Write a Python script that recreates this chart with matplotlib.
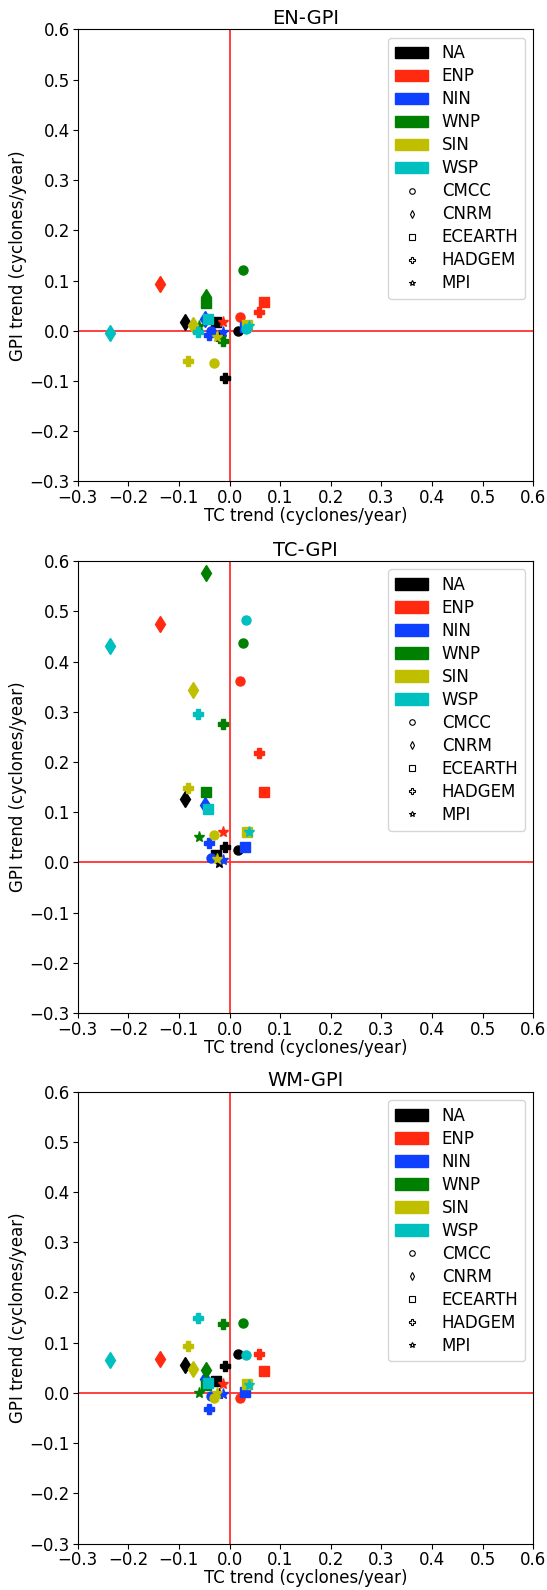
import matplotlib
matplotlib.use('Agg')

import matplotlib.pyplot as plt
from matplotlib.patches import Patch
from matplotlib.lines import Line2D


regions = ["NA", "ENP", "NIN", "WNP", "SIN", "WSP"]
region_colors = ["black", "#ff2a10", "#1040ff", "green", "#bfbf00", "#00bfbf"]
models = ["CMCC", "CNRM", "ECEARTH", "HADGEM", "MPI"]
model_markers = ["o", "d", "s", "P", "*"]

# TC trend per region, one value per model (same in all three panels)
tc_na = [0.016, -0.087, -0.026, -0.009, -0.020]
tc_enp = [0.021, -0.138, 0.069, 0.058, -0.013]
tc_nin = [-0.036, -0.048, 0.031, -0.041, -0.013]
tc_wnp = [0.026, -0.047, -0.047, -0.012, -0.061]
tc_sin = [-0.031, -0.072, 0.034, -0.082, -0.025]
tc_wsp = [0.032, -0.235, -0.043, -0.062, 0.038]

# EN-GPI trends
en_na = [0.000, 0.018, 0.017, -0.095, -0.012]
en_enp = [0.028, 0.094, 0.057, 0.038, 0.018]
en_nin = [0.000, 0.024, 0.007, -0.008, -0.002]
en_wnp = [0.121, 0.068, 0.055, -0.020, 0.009]
en_sin = [-0.065, 0.011, 0.012, -0.061, -0.013]
en_wsp = [0.003, -0.004, 0.023, -0.002, 0.009]

# TC-GPI trends
tcg_na = [0.024, 0.127, 0.015, 0.031, -0.002]
tcg_enp = [0.361, 0.475, 0.141, 0.218, 0.061]
tcg_nin = [0.008, 0.115, 0.031, 0.038, 0.005]
tcg_wnp = [0.437, 0.577, 0.140, 0.275, 0.051]
tcg_sin = [0.055, 0.344, 0.061, 0.149, 0.007]
tcg_wsp = [0.483, 0.430, 0.106, 0.296, 0.061]

# WM-GPI trends
wm_na = [0.078, 0.055, 0.023, 0.053, -0.002]
wm_enp = [-0.011, 0.068, 0.043, 0.077, 0.017]
wm_nin = [-0.007, 0.028, 0.002, -0.032, -0.003]
wm_wnp = [0.140, 0.045, 0.015, 0.138, 0.000]
wm_sin = [-0.011, 0.048, 0.018, 0.093, 0.000]
wm_wsp = [0.075, 0.066, 0.020, 0.149, 0.015]

tc_all = [tc_na, tc_enp, tc_nin, tc_wnp, tc_sin, tc_wsp]
panels = [
    ("EN-GPI", [en_na, en_enp, en_nin, en_wnp, en_sin, en_wsp]),
    ("TC-GPI", [tcg_na, tcg_enp, tcg_nin, tcg_wnp, tcg_sin, tcg_wsp]),
    ("WM-GPI", [wm_na, wm_enp, wm_nin, wm_wnp, wm_sin, wm_wsp]),
]

fig = plt.figure(figsize=(5.47, 15.90), dpi=100)

left = 0.1417
width = 0.8336
height = 0.2843
bottoms = [0.6972, 0.3628, 0.0292]

handles = [Patch(color=c, label=r) for r, c in zip(regions, region_colors)]
for m, mk in zip(models, model_markers):
    handles.append(Line2D([], [], linestyle="none", marker=mk, markersize=4,
                          markerfacecolor="white", markeredgecolor="black",
                          markeredgewidth=0.8, label=m))

for (title, gpi_all), bottom in zip(panels, bottoms):
    ax = fig.add_axes([left, bottom, width, height])
    ax.axhline(0, color="#ff3030", lw=1.3, zorder=1)
    ax.axvline(0, color="#ff3030", lw=1.3, zorder=1)
    for color, xs, ys in zip(region_colors, tc_all, gpi_all):
        for x, y, mk in zip(xs, ys, model_markers):
            ms = 8 if mk in ("d", "*") else 6.5
            ax.plot(x, y, linestyle="none", marker=mk, color=color,
                    markersize=ms, zorder=3)
    ax.set_xlim(-0.3, 0.6)
    ax.set_ylim(-0.3, 0.6)
    ax.set_xticks([-0.3, -0.2, -0.1, 0.0, 0.1, 0.2, 0.3, 0.4, 0.5, 0.6])
    ax.set_yticks([-0.3, -0.2, -0.1, 0.0, 0.1, 0.2, 0.3, 0.4, 0.5, 0.6])
    ax.tick_params(labelsize=12, pad=2)
    ax.set_title(title, fontsize=14, pad=4)
    ax.set_xlabel("TC trend (cyclones/year)", fontsize=12, labelpad=0)
    ax.set_ylabel("GPI trend (cyclones/year)", fontsize=12, labelpad=2)
    ax.legend(handles=handles, loc="upper right", fontsize=12,
              labelspacing=0.3)

plt.savefig("out.png", dpi=100)
